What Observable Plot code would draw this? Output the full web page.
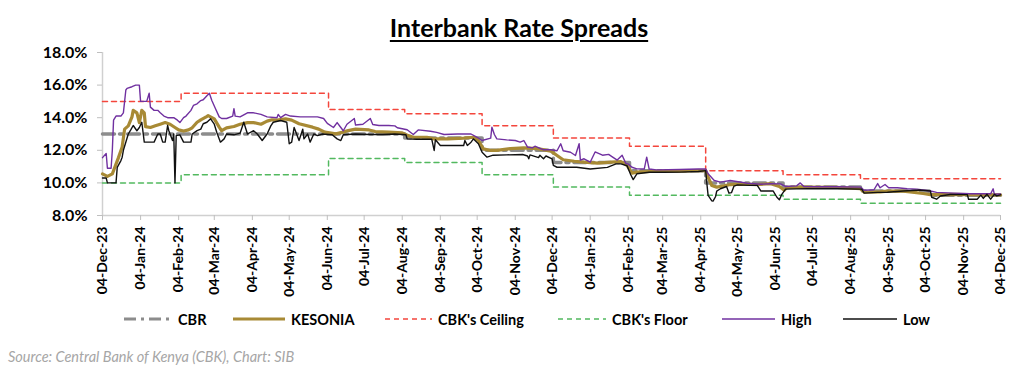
<!DOCTYPE html>
<html><head><meta charset="utf-8">
<script src="https://cdn.jsdelivr.net/npm/d3@7"></script>
<script src="https://cdn.jsdelivr.net/npm/@observablehq/plot@0.6"></script>
<style>
body{margin:0;background:#fff;}
#wrap{position:relative;width:1024px;height:382px;font-family:Lato,"Open Sans",sans-serif;overflow:hidden;background:#fff}
#chart{position:absolute;left:0;top:0}
#title{position:absolute;top:12px;left:519px;transform:translateX(-50%);white-space:nowrap;font-weight:700;font-size:25px;text-decoration:underline;text-decoration-thickness:2px;text-underline-offset:3px;color:#000}
.li{position:absolute;top:310px;height:18px;display:flex;align-items:center;font-weight:700;font-size:14.5px;color:#000;white-space:nowrap}
.li svg{margin-right:6px}
#source{position:absolute;left:8px;top:348px;font-style:italic;font-size:14.5px;color:#a6a6a6;white-space:nowrap}
</style></head>
<body><div id="wrap"><div id="chart"></div><div id="title">Interbank Rate Spreads</div><div id="legend"></div><div id="source">Source: Central Bank of Kenya (CBK), Chart: SIB</div></div>
<script>
// ---- data (values in %) ----
const xTicks = ["2023-12-04","2024-01-04","2024-02-04","2024-03-04","2024-04-04","2024-05-04","2024-06-04","2024-07-04","2024-08-04","2024-09-04","2024-10-04","2024-11-04","2024-12-04","2025-01-04","2025-02-04","2025-03-04","2025-04-04","2025-05-04","2025-06-04","2025-07-04","2025-08-04","2025-09-04","2025-10-04","2025-11-04","2025-12-04"];
const yTicks = [8,10,12,14,16,18];

const cbr = [["2023-12-04",13.0],["2024-08-06",12.75],["2024-10-08",12.0],["2024-12-05",11.25],["2025-02-05",10.75],["2025-04-08",10.0],["2025-06-10",9.75],["2025-08-12",9.5],["2025-10-07",9.25],["2025-12-04",9.25]];
const ceiling = [["2023-12-04",15.0],["2024-02-06",15.5],["2024-06-05",14.5],["2024-08-06",14.25],["2024-10-08",13.5],["2024-12-05",12.75],["2025-02-05",12.25],["2025-04-08",10.75],["2025-06-10",10.5],["2025-08-12",10.25],["2025-12-04",10.25]];
const floor = [["2023-12-04",10.0],["2024-02-06",10.5],["2024-06-05",11.5],["2024-08-06",11.25],["2024-10-08",10.5],["2024-12-05",9.75],["2025-02-05",9.25],["2025-06-10",9.0],["2025-08-12",8.75],["2025-12-04",8.75]];

const kesonia = [["2023-12-04",10.55],["2023-12-08",10.4],["2023-12-12",10.55],["2023-12-15",11.15],["2023-12-17",11.55],["2023-12-20",12.2],["2023-12-22",13.3],["2023-12-25",13.5],["2023-12-28",14.05],["2023-12-29",14.45],["2024-01-01",14.3],["2024-01-03",13.7],["2024-01-05",14.45],["2024-01-07",14.3],["2024-01-08",13.45],["2024-01-12",13.4],["2024-01-16",13.5],["2024-01-20",13.6],["2024-01-24",13.7],["2024-01-28",13.6],["2024-02-01",13.4],["2024-02-04",13.25],["2024-02-08",13.18],["2024-02-12",13.25],["2024-02-15",13.38],["2024-02-19",13.72],["2024-02-22",13.87],["2024-02-26",14.03],["2024-02-28",14.13],["2024-03-04",13.93],["2024-03-08",13.42],["2024-03-10",13.2],["2024-03-14",13.38],["2024-03-20",13.46],["2024-03-25",13.6],["2024-03-31",13.7],["2024-04-05",13.7],["2024-04-11",13.6],["2024-04-16",13.79],["2024-04-20",13.87],["2024-04-24",13.85],["2024-05-01",13.93],["2024-05-06",13.85],["2024-05-12",13.63],["2024-05-23",13.42],["2024-05-28",13.3],["2024-06-02",13.11],["2024-06-11",13.01],["2024-06-16",13.1],["2024-06-21",13.21],["2024-06-27",13.3],["2024-07-08",13.25],["2024-07-13",13.15],["2024-07-24",13.11],["2024-08-04",13.07],["2024-08-09",12.9],["2024-08-13",12.8],["2024-08-24",12.8],["2024-08-30",12.7],["2024-09-10",12.7],["2024-09-23",12.75],["2024-10-01",12.8],["2024-10-05",12.6],["2024-10-09",12.09],["2024-10-15",11.99],["2024-10-20",12.0],["2024-10-31",12.1],["2024-11-11",12.15],["2024-11-22",12.1],["2024-12-03",11.95],["2024-12-08",11.68],["2024-12-13",11.42],["2024-12-22",11.33],["2024-12-30",11.27],["2025-01-10",11.21],["2025-01-21",11.27],["2025-01-29",11.3],["2025-02-03",11.07],["2025-02-07",10.6],["2025-02-11",10.66],["2025-02-22",10.7],["2025-03-06",10.72],["2025-03-18",10.72],["2025-04-02",10.76],["2025-04-08",10.75],["2025-04-10",10.35],["2025-04-13",9.84],["2025-04-17",9.74],["2025-04-23",9.82],["2025-04-28",9.9],["2025-05-09",9.92],["2025-05-20",9.9],["2025-05-31",9.95],["2025-06-07",9.78],["2025-06-11",9.55],["2025-06-13",9.72],["2025-06-27",9.74],["2025-07-24",9.72],["2025-08-12",9.64],["2025-08-15",9.43],["2025-08-28",9.45],["2025-09-03",9.5],["2025-09-16",9.5],["2025-10-02",9.35],["2025-10-08",9.28],["2025-10-27",9.3],["2025-11-09",9.28],["2025-12-04",9.27]];

const high = [["2023-12-04",11.55],["2023-12-07",11.8],["2023-12-08",10.9],["2023-12-11",10.9],["2023-12-12",12.0],["2023-12-13",13.85],["2023-12-15",14.1],["2023-12-19",14.1],["2023-12-21",14.3],["2023-12-23",15.7],["2023-12-24",15.8],["2023-12-28",15.9],["2023-12-31",16.0],["2024-01-03",16.0],["2024-01-04",15.0],["2024-01-09",15.0],["2024-01-11",15.5],["2024-01-12",14.65],["2024-01-15",14.45],["2024-01-18",14.45],["2024-01-20",14.3],["2024-01-23",14.1],["2024-01-26",14.0],["2024-01-31",14.0],["2024-02-03",13.85],["2024-02-05",13.7],["2024-02-08",14.0],["2024-02-10",14.1],["2024-02-14",14.45],["2024-02-16",14.75],["2024-02-19",14.85],["2024-02-22",15.05],["2024-02-24",15.1],["2024-02-27",15.35],["2024-02-29",15.5],["2024-03-02",15.05],["2024-03-05",14.55],["2024-03-08",14.05],["2024-03-10",13.95],["2024-03-14",13.95],["2024-03-19",14.1],["2024-03-20",14.55],["2024-03-21",14.1],["2024-03-25",14.05],["2024-03-31",14.3],["2024-04-05",14.3],["2024-04-11",14.2],["2024-04-16",14.05],["2024-04-24",14.0],["2024-04-25",14.2],["2024-04-27",14.0],["2024-05-01",14.2],["2024-05-05",14.1],["2024-05-13",14.05],["2024-05-27",14.05],["2024-06-01",13.95],["2024-06-04",13.65],["2024-06-09",13.4],["2024-06-12",13.7],["2024-06-15",13.4],["2024-06-17",13.2],["2024-06-20",13.6],["2024-06-26",13.95],["2024-06-27",13.55],["2024-07-03",13.6],["2024-07-09",13.95],["2024-07-11",13.58],["2024-07-16",13.52],["2024-07-24",13.52],["2024-07-29",13.5],["2024-07-31",13.38],["2024-08-08",13.26],["2024-08-13",12.97],["2024-08-17",13.25],["2024-08-27",13.17],["2024-09-01",13.1],["2024-09-07",12.97],["2024-09-18",13.0],["2024-09-29",13.0],["2024-10-04",12.8],["2024-10-08",12.6],["2024-10-15",12.75],["2024-10-16",13.42],["2024-10-18",12.97],["2024-10-20",12.7],["2024-10-28",12.64],["2024-11-04",12.6],["2024-11-08",12.5],["2024-11-11",12.6],["2024-11-14",12.2],["2024-11-18",12.15],["2024-11-20",12.25],["2024-11-27",12.03],["2024-12-03",12.03],["2024-12-08",11.97],["2024-12-11",12.4],["2024-12-13",11.97],["2024-12-19",11.88],["2024-12-23",11.68],["2024-12-26",12.4],["2024-12-27",11.4],["2024-12-30",11.48],["2025-01-04",11.27],["2025-01-08",11.9],["2025-01-14",11.7],["2025-01-19",11.75],["2025-01-22",11.6],["2025-01-26",11.4],["2025-01-30",11.7],["2025-02-02",11.2],["2025-02-04",11.15],["2025-02-07",10.96],["2025-02-11",10.86],["2025-02-17",10.85],["2025-02-19",11.58],["2025-02-21",10.85],["2025-02-27",10.8],["2025-03-18",10.82],["2025-04-02",10.85],["2025-04-08",10.86],["2025-04-10",10.56],["2025-04-15",10.15],["2025-04-20",10.05],["2025-04-28",10.15],["2025-05-12",9.98],["2025-05-23",9.92],["2025-05-31",9.95],["2025-06-08",9.94],["2025-06-12",9.78],["2025-06-21",9.82],["2025-06-24",10.0],["2025-06-27",9.78],["2025-07-10",9.76],["2025-07-24",9.76],["2025-08-12",9.74],["2025-08-15",9.55],["2025-08-23",9.58],["2025-08-26",9.96],["2025-08-28",9.7],["2025-09-01",9.9],["2025-09-04",9.7],["2025-09-11",9.7],["2025-09-19",9.64],["2025-09-27",9.62],["2025-10-08",9.5],["2025-10-13",9.42],["2025-10-27",9.37],["2025-11-09",9.33],["2025-11-26",9.33],["2025-11-28",9.64],["2025-11-29",9.3],["2025-12-04",9.32]];

const low = [["2023-12-04",10.3],["2023-12-07",10.3],["2023-12-08",10.0],["2023-12-15",10.0],["2023-12-16",10.95],["2023-12-19",11.37],["2023-12-20",11.58],["2023-12-21",12.0],["2023-12-25",13.0],["2023-12-27",13.25],["2023-12-29",13.52],["2024-01-01",13.2],["2024-01-03",13.4],["2024-01-05",13.72],["2024-01-07",12.5],["2024-01-15",12.5],["2024-01-18",13.0],["2024-01-20",13.0],["2024-01-22",12.5],["2024-01-24",12.5],["2024-01-26",13.52],["2024-01-27",13.2],["2024-01-30",12.6],["2024-01-31",13.0],["2024-02-01",10.0],["2024-02-02",12.9],["2024-02-05",12.95],["2024-02-08",12.5],["2024-02-14",12.5],["2024-02-15",13.0],["2024-02-19",13.21],["2024-02-22",13.3],["2024-02-24",13.63],["2024-02-27",13.72],["2024-03-01",13.93],["2024-03-04",13.6],["2024-03-06",13.11],["2024-03-09",12.5],["2024-03-12",12.7],["2024-03-14",13.0],["2024-03-20",12.95],["2024-03-25",13.05],["2024-03-28",13.72],["2024-03-31",13.0],["2024-04-05",13.2],["2024-04-08",13.0],["2024-04-12",12.6],["2024-04-16",13.0],["2024-04-19",13.5],["2024-04-21",13.72],["2024-04-27",13.83],["2024-05-02",13.72],["2024-05-04",12.4],["2024-05-06",12.5],["2024-05-08",13.4],["2024-05-10",13.0],["2024-05-12",12.6],["2024-05-15",13.3],["2024-05-16",12.7],["2024-05-19",13.0],["2024-05-21",12.5],["2024-05-24",13.0],["2024-05-27",12.9],["2024-05-31",13.0],["2024-06-08",12.95],["2024-06-12",12.7],["2024-06-15",12.6],["2024-06-17",12.95],["2024-06-27",13.0],["2024-07-08",12.97],["2024-07-19",12.97],["2024-07-29",13.0],["2024-08-07",12.95],["2024-08-08",12.7],["2024-08-16",12.68],["2024-08-22",12.68],["2024-08-28",12.68],["2024-08-30",11.99],["2024-08-31",12.65],["2024-09-04",12.29],["2024-09-23",12.29],["2024-09-24",12.6],["2024-09-26",12.3],["2024-09-29",12.5],["2024-10-01",12.7],["2024-10-05",12.4],["2024-10-08",11.88],["2024-10-12",11.58],["2024-10-17",11.7],["2024-10-28",11.72],["2024-11-10",11.74],["2024-11-14",11.65],["2024-11-15",11.48],["2024-11-16",11.72],["2024-11-23",11.55],["2024-11-24",11.7],["2024-11-27",11.48],["2024-11-29",11.65],["2024-12-04",11.48],["2024-12-05",11.07],["2024-12-08",10.96],["2024-12-24",10.96],["2025-01-04",10.85],["2025-01-18",10.95],["2025-01-25",11.17],["2025-01-29",11.17],["2025-02-03",11.05],["2025-02-06",10.5],["2025-02-08",10.2],["2025-02-11",10.56],["2025-02-21",10.65],["2025-03-05",10.65],["2025-03-18",10.66],["2025-04-02",10.7],["2025-04-08",10.75],["2025-04-09",9.94],["2025-04-10",9.23],["2025-04-13",8.9],["2025-04-14",8.88],["2025-04-16",9.15],["2025-04-17",9.5],["2025-04-20",9.64],["2025-04-25",9.78],["2025-04-27",9.37],["2025-04-29",9.4],["2025-05-01",9.8],["2025-05-04",9.88],["2025-05-14",9.85],["2025-05-20",9.85],["2025-05-23",9.5],["2025-06-02",9.5],["2025-06-05",9.12],["2025-06-07",8.96],["2025-06-09",9.3],["2025-06-12",9.62],["2025-06-30",9.65],["2025-07-24",9.64],["2025-08-13",9.62],["2025-08-15",9.37],["2025-08-26",9.42],["2025-09-03",9.43],["2025-09-16",9.5],["2025-09-30",9.56],["2025-10-08",9.5],["2025-10-09",9.12],["2025-10-13",9.0],["2025-10-16",9.2],["2025-10-24",9.29],["2025-11-07",9.28],["2025-11-08",9.0],["2025-11-15",9.0],["2025-11-18",9.25],["2025-11-20",9.05],["2025-11-23",9.3],["2025-11-26",9.0],["2025-11-29",9.3],["2025-12-01",9.2],["2025-12-04",9.27]];

// ---- styles ----
const seriesStyle = {
  "CBR": {stroke:"#8c8c8c", width:3.5, dash:"12,5,3,5"},
  "KESONIA": {stroke:"#a88a35", width:3.2, dash:null},
  "CBK's Ceiling": {stroke:"#f4463c", width:1.5, dash:"5,4"},
  "CBK's Floor": {stroke:"#52b95f", width:1.5, dash:"5,4"},
  "High": {stroke:"#7030a0", width:1.4, dash:null},
  "Low": {stroke:"#111111", width:1.4, dash:null}
};

const parse = d3.utcParse("%Y-%m-%d");
const rows = arr => arr.map(([d, v]) => ({date: parse(d), value: v}));
const fmt = d3.utcFormat("%d-%b-%y");

function lineMark(arr, name, step) {
  const s = seriesStyle[name];
  const o = {x:"date", y:"value", stroke:s.stroke, strokeWidth:s.width};
  if (s.dash) o.strokeDasharray = s.dash;
  if (step) o.curve = "step-after";
  return Plot.line(rows(arr), o);
}

const chart = Plot.plot({
  width:1024, height:382,
  marginTop:52, marginBottom:167, marginLeft:102, marginRight:24,
  style:{fontFamily:"Lato, 'Open Sans', sans-serif", background:"transparent", color:"#000"},
  x:{type:"utc", domain:[parse(xTicks[0]), parse(xTicks[xTicks.length-1])]},
  y:{domain:[8,18]},
  marks:[
    Plot.ruleY([8], {stroke:"#d0d0d0", strokeWidth:1.5}),
    Plot.ruleX([parse(xTicks[0])], {stroke:"#d0d0d0", strokeWidth:1.5}),
    Plot.axisY({ticks:yTicks, tickFormat:d => d.toFixed(1) + "%", tickSize:5, tickPadding:10, stroke:"#bfbfbf", fill:"#000", fontSize:16, fontWeight:700, label:null}),
    Plot.axisX({ticks:xTicks.map(parse), tickFormat:fmt, tickRotate:-90, tickSize:5, tickPadding:6, stroke:"#bfbfbf", fill:"#000", fontSize:14, fontWeight:700, label:null}),
    lineMark(cbr, "CBR", true),
    lineMark(kesonia, "KESONIA", false),
    lineMark(ceiling, "CBK's Ceiling", true),
    lineMark(floor, "CBK's Floor", true),
    lineMark(high, "High", false),
    lineMark(low, "Low", false)
  ]
});
document.getElementById("chart").appendChild(chart);

// ---- legend ----
const legendItems = [
  {name:"CBR", x:124, len:48},
  {name:"KESONIA", x:233, len:52},
  {name:"CBK's Ceiling", x:385, len:47},
  {name:"CBK's Floor", x:558, len:48},
  {name:"High", x:722, len:53},
  {name:"Low", x:843, len:54}
];
const legend = document.getElementById("legend");
for (const it of legendItems) {
  const s = seriesStyle[it.name];
  const div = document.createElement("div");
  div.className = "li";
  div.style.left = it.x + "px";
  div.innerHTML = `<svg width="${it.len}" height="10"><line x1="0" y1="5" x2="${it.len}" y2="5" stroke="${s.stroke}" stroke-width="${Math.min(s.width,3.2)}" ${s.dash ? `stroke-dasharray="${s.dash}"` : ""}/></svg><span>${it.name}</span>`;
  legend.appendChild(div);
}
</script>
</body></html>
